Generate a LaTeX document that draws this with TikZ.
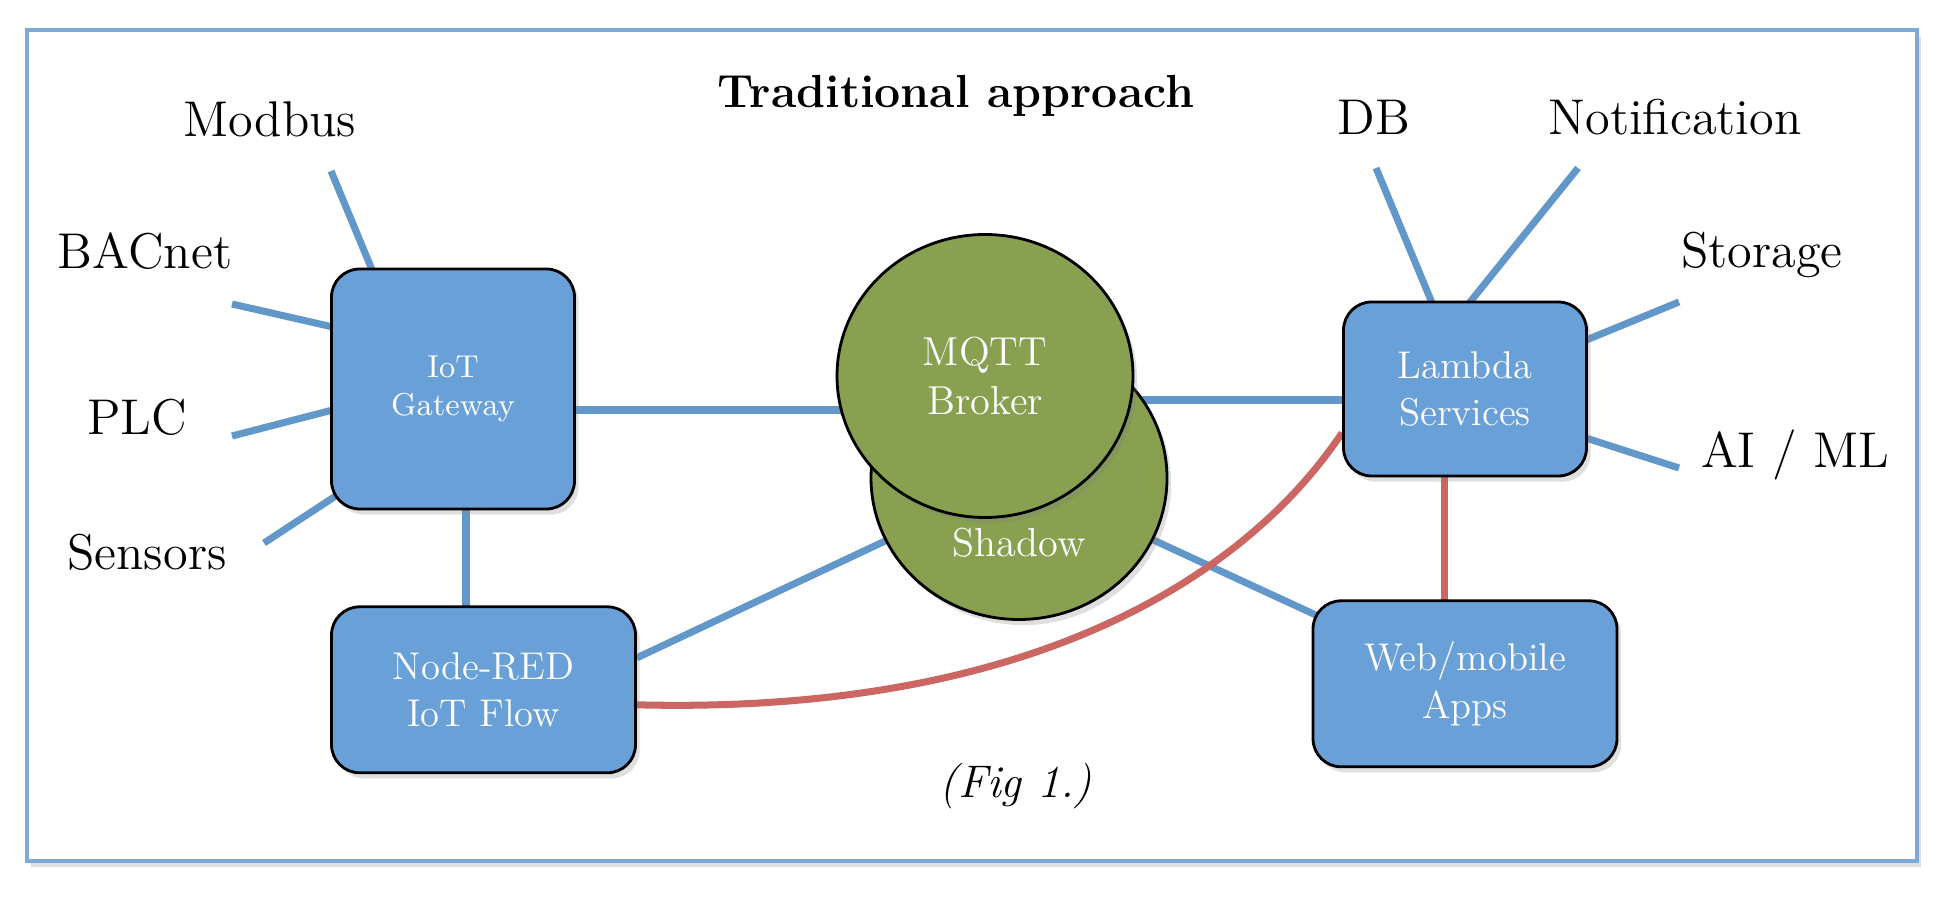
\documentclass[tikz,border=0pt]{standalone}
\usepackage{tikz}
\usetikzlibrary{shapes.geometric, positioning, backgrounds, shadows}
\definecolor{boxblue}{RGB}{106,160,216}
\definecolor{lineblue}{RGB}{98,151,201}
\definecolor{brokergreen}{RGB}{137,160,80}
\definecolor{linered}{RGB}{204,102,98}
\definecolor{frameblue}{RGB}{125,168,216}
\tikzstyle{soft_shadow} = [drop shadow={opacity=0.25, shadow xshift=1.2pt, shadow yshift=-1.6pt}]
\tikzstyle{outer_frame} = [draw=frameblue, line width=1.1pt, fill=white, soft_shadow]
\tikzstyle{box} = [rectangle, rounded corners=8pt, minimum width=3.04cm, minimum height=1.66cm, align=center, text=white, draw=black, line width=0.8pt, fill=boxblue, font=\fontsize{11}{13.5}\selectfont, soft_shadow]
\tikzstyle{broker} = [ellipse, minimum width=2.96cm, minimum height=2.83cm, inner sep=0pt, align=center, text=white, draw=black, line width=0.8pt, fill=brokergreen, font=\fontsize{11.5}{14}\selectfont, soft_shadow]
\tikzstyle{broker_text} = [text=white, font=\fontsize{11.5}{14}\selectfont, anchor=base]
\tikzstyle{side_text} = [font=\fontsize{14.3}{17}\selectfont, anchor=base]
\tikzstyle{title_text} = [font=\fontsize{13.2}{16}\selectfont\bfseries, anchor=base]
\tikzstyle{fig_text} = [font=\fontsize{13}{16}\selectfont\itshape, anchor=base]
\tikzstyle{blue_line} = [line width=2pt, draw=lineblue, shorten >=-5pt]
\tikzstyle{red_line} = [line width=2pt, draw=linered]

\begin{document}
\begin{tikzpicture}[node distance=1.5cm]
        \useasboundingbox (0,0) rectangle (19.46,8.98);
        \begin{scope}[on background layer]
                \draw [outer_frame] (0.27,0.37) rectangle (19.17,8.68);
        \end{scope}
        \node (title) [title_text] at (9.56,7.90) {Traditional approach};
        \node (gateway) [box, minimum width=2.43cm, minimum height=2.40cm, font=\fontsize{9}{11}\selectfont] at (4.53,5.09) {IoT\\Gateway};
        \node (nodered) [box, below=0.95cm of gateway.south west, anchor=north west] {Node-RED\\IoT Flow};
        \node (shadow) [broker] at (10.19,4.20) {};
        \node (shadow_text) [broker_text] at ([yshift=-0.79cm]shadow.center) {Shadow};
        \node (mqtt) [broker] at (9.85,5.22) {MQTT\\Broker};
        \node (lambda) [box, minimum width=2.43cm, minimum height=1.74cm] at (14.65,5.09) {Lambda\\Services};
        \node (webapp) [box, below=1.22cm of lambda] {Web/mobile\\Apps};

        \node (modbus) [side_text] at (2.70,7.61) {Modbus};
        \node (bacnet) [side_text] at (1.45,6.29) {BACnet};
        \node (plc) [side_text] at (1.37,4.63) {PLC};
        \node (sensors) [side_text] at (1.47,3.28) {Sensors};
        \node (db) [side_text] at (13.74,7.63) {DB};
        \node (notification) [side_text] at (16.75,7.63) {Notification};
        \node (storage) [side_text] at (17.62,6.30) {Storage};
        \node (aiml) [side_text] at (17.95,4.30) {AI / ML};
        \node (fig) [fig_text] at (10.16,1.00) {(Fig 1.)};

        \coordinate (modbus_end) at (3.31,7.27);
        \coordinate (bacnet_end) at (2.32,5.94);
        \coordinate (plc_end) at (2.32,4.62);
        \coordinate (sensors_end) at (2.64,3.55);
        \coordinate (db_end) at (13.76,7.30);
        \coordinate (notification_end) at (15.78,7.30);
        \coordinate (storage_end) at (16.79,5.96);
        \coordinate (aiml_end) at (16.79,4.30);

        \begin{scope}[on background layer]
                \draw [blue_line] (modbus_end) -- (gateway.124);
                \draw [blue_line] (bacnet_end) -- (gateway.153);
                \draw [blue_line] (plc_end) -- (gateway.190);
                \draw [blue_line] (sensors_end) -- (gateway.222);
                \draw [blue_line] (db_end) -- (lambda.111);
                \draw [blue_line] (notification_end) -- (lambda.86);
                \draw [blue_line] (storage_end) -- (lambda.22);
                \draw [blue_line] (aiml_end) -- (lambda.338);
                \draw [blue_line] ([xshift=0.13cm]gateway.south) -- ([xshift=0.13cm]gateway.south |- nodered);
                \draw [blue_line] ([yshift=-0.21cm]gateway.east) -- ([yshift=-0.21cm]gateway.east -| mqtt);
                \draw [blue_line] ([yshift=-0.11cm]lambda.west) -- ([yshift=-0.11cm]lambda.west -| mqtt);
                \draw [blue_line] ([yshift=0.32cm]nodered.east) -- (shadow);
                \draw [blue_line] (shadow) -- (webapp);
                \draw [red_line] ([xshift=-0.21cm]lambda.south) -- ([xshift=-0.21cm]lambda.south |- webapp);
                \draw [red_line] ([yshift=-0.15cm]nodered.east) .. controls +(5.13,-0.13) and +(-0.33,-0.47) .. ([yshift=-0.44cm]lambda.west);
        \end{scope}
\end{tikzpicture}
\end{document}
